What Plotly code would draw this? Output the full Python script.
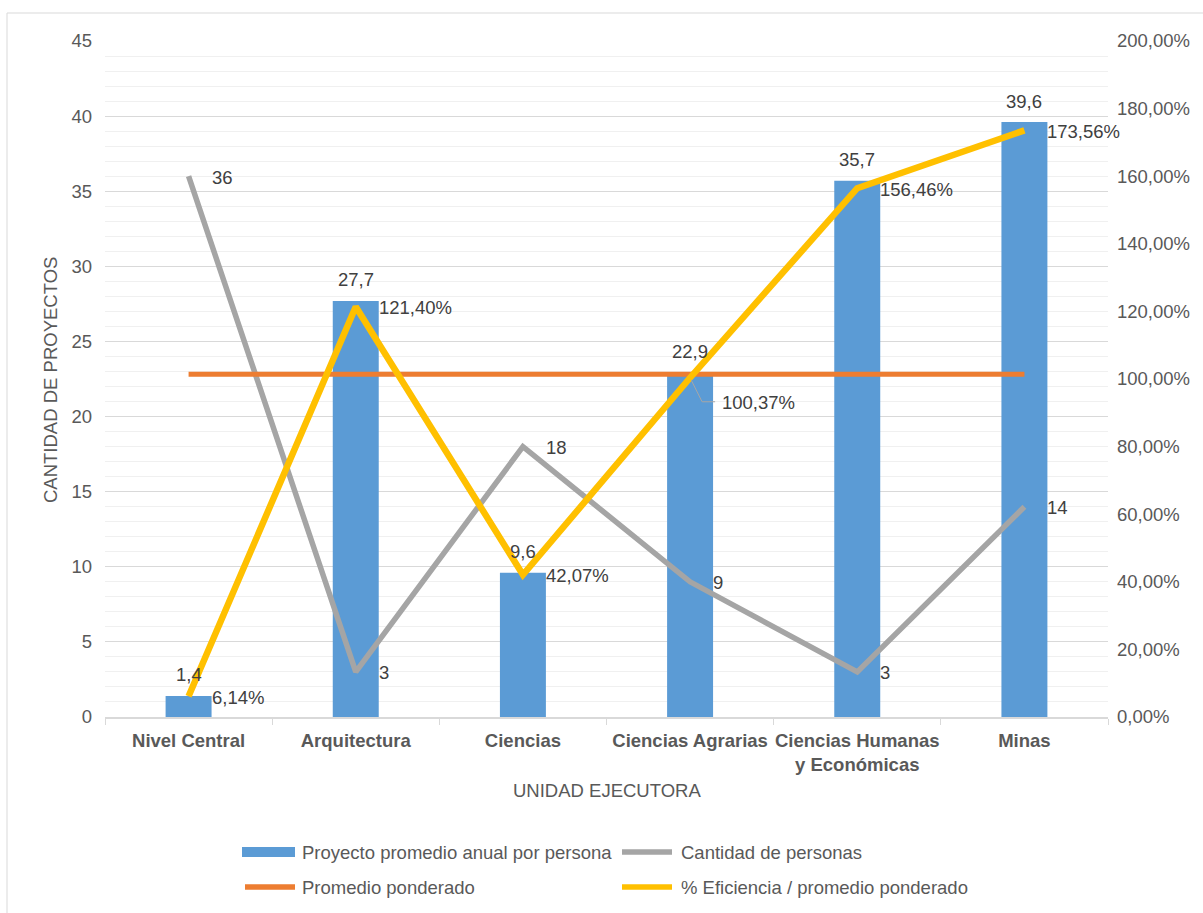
import plotly.graph_objects as go

# Datos por unidad ejecutora
categorias = ["Nivel Central", "Arquitectura", "Ciencias", "Ciencias Agrarias",
              "Ciencias Humanas<br>y Económicas", "Minas"]
proyecto_promedio = [1.4, 27.7, 9.6, 22.9, 35.7, 39.6]
cantidad_personas = [36, 3, 18, 9, 3, 14]
promedio_ponderado = [22.82, 22.82, 22.82, 22.82, 22.82, 22.82]
eficiencia_pct = [6.14, 121.40, 42.07, 100.37, 156.46, 173.56]

nombres = ["Proyecto promedio anual por persona", "Cantidad de personas",
           "Promedio ponderado", "% Eficiencia / promedio ponderado"]
colores = ["#5B9BD5", "#A5A5A5", "#ED7D31", "#FFC000"]

W, H = 1203, 913
ML, MR, MT, MB = 105, 95, 41, 196
PW, PH = W - ML - MR, H - MT - MB
FONT = "Liberation Sans, Arial, sans-serif"
FS = 18.5
TXT = "#595959"
LBL = "#404040"


def px(x):
    return (x - ML) / PW


def py(y):
    return (H - MB - y) / PH


def coma(v, dec):
    return f"{v:.{dec}f}".replace(".", ",")


fig = go.Figure()

fig.add_trace(go.Bar(x=categorias, y=proyecto_promedio, name=nombres[0],
                     marker=dict(color=colores[0], line=dict(width=0)),
                     width=0.275, yaxis="y"))
fig.add_trace(go.Scatter(x=categorias, y=cantidad_personas, name=nombres[1],
                         mode="lines", line=dict(color=colores[1], width=5.5),
                         yaxis="y"))
fig.add_trace(go.Scatter(x=categorias, y=promedio_ponderado, name=nombres[2],
                         mode="lines", line=dict(color=colores[2], width=5),
                         yaxis="y"))
fig.add_trace(go.Scatter(x=categorias, y=eficiencia_pct, name=nombres[3],
                         mode="lines", line=dict(color=colores[3], width=6.5),
                         yaxis="y2"))

anns = []
lbl_font = dict(family=FONT, size=FS, color=LBL)
# Etiquetas de las barras
for c, v in zip(categorias, proyecto_promedio):
    anns.append(dict(x=c, y=v, xref="x", yref="y", text=coma(v, 1),
                     showarrow=False, yanchor="middle", yshift=21,
                     font=lbl_font))
# Etiquetas de cantidad de personas
for c, v in zip(categorias, cantidad_personas):
    anns.append(dict(x=c, y=v, xref="x", yref="y", text=str(v),
                     showarrow=False, xanchor="left", yanchor="middle",
                     xshift=21, yshift=-1, font=lbl_font))
# Etiquetas de eficiencia
for i, (c, v) in enumerate(zip(categorias, eficiencia_pct)):
    if i == 3:
        anns.append(dict(x=c, y=v, xref="x", yref="y2", text=coma(v, 2) + "%",
                         showarrow=False, xanchor="left", yanchor="middle",
                         xshift=30, yshift=-25, font=lbl_font))
    else:
        anns.append(dict(x=c, y=v, xref="x", yref="y2", text=coma(v, 2) + "%",
                         showarrow=False, xanchor="left", yanchor="middle",
                         xshift=21, yshift=-1, font=lbl_font))

# Títulos de ejes
anns.append(dict(x=px(50), y=py(380), xref="paper", yref="paper",
                 xanchor="center", yanchor="middle",
                 text="CANTIDAD DE PROYECTOS", textangle=-90, showarrow=False,
                 font=dict(family=FONT, size=FS, color=TXT)))
anns.append(dict(x=px(607), y=py(790), xref="paper", yref="paper",
                 xanchor="center", yanchor="middle",
                 text="UNIDAD EJECUTORA", showarrow=False,
                 font=dict(family=FONT, size=FS, color=TXT)))

shapes = []
# Línea guía de la etiqueta 100,37 %
shapes.append(dict(type="path", xref="x", yref="y2", xsizemode="pixel",
                   ysizemode="pixel", xanchor=3, yanchor=eficiencia_pct[3],
                   path="M 1,-2 L 12,-24 L 25,-24",
                   line=dict(color="#A6A6A6", width=1)))
# Borde del área del gráfico
shapes.append(dict(type="rect", xref="paper", yref="paper",
                   x0=px(7), x1=px(1215), y0=py(925), y1=py(13),
                   line=dict(color="#D9D9D9", width=1), layer="below"))

# Leyenda
leg_font = dict(family=FONT, size=FS, color=TXT)
filas = [852, 887]
items = [(242, 300, filas[0]), (619, 679, filas[0]),
         (242, 300, filas[1]), (619, 679, filas[1])]
for k, (sx, tx, yy) in enumerate(items):
    if k == 0:
        shapes.append(dict(type="rect", xref="paper", yref="paper",
                           x0=px(sx), x1=px(sx + 53), y0=py(yy + 5), y1=py(yy - 5),
                           fillcolor=colores[0], line=dict(width=0)))
    else:
        shapes.append(dict(type="line", xref="paper", yref="paper",
                           x0=px(sx + 3), x1=px(sx + 53), y0=py(yy), y1=py(yy),
                           line=dict(color=colores[k], width=5.5)))
    anns.append(dict(x=px(tx), y=py(yy), xref="paper", yref="paper",
                     text=nombres[k], xanchor="left", yanchor="middle",
                     showarrow=False, font=leg_font))

fig.update_layout(
    width=W, height=H,
    margin=dict(l=ML, r=MR, t=MT, b=MB, pad=0),
    paper_bgcolor="white", plot_bgcolor="white",
    separators=",.",
    showlegend=False,
    barmode="overlay",
    font=dict(family=FONT, size=FS, color=TXT),
    annotations=anns, shapes=shapes,
    xaxis=dict(type="category", range=[-0.5, 5.5], showline=True,
               linecolor="#D9D9D9", linewidth=1.5, ticks="outside",
               tickson="boundaries", ticklen=6, tickcolor="#D9D9D9",
               showgrid=False, ticklabelstandoff=6, tickangle=0,
               tickfont=dict(family=FONT, size=FS, color=TXT, weight="bold")),
    yaxis=dict(range=[0, 45], tick0=0, dtick=5, showgrid=True,
               gridcolor="#D9D9D9", gridwidth=1, zeroline=False,
               showline=False, ticks="", ticklabelstandoff=12,
               tickfont=dict(family=FONT, size=FS, color=TXT),
               minor=dict(dtick=1, showgrid=True, gridcolor="#F0F0F0",
                          gridwidth=1)),
    yaxis2=dict(range=[0, 200], tick0=0, dtick=20, overlaying="y",
                side="right", showgrid=False, zeroline=False, showline=False,
                ticks="", tickformat=".2f", ticksuffix="%",
                ticklabelstandoff=8,
                tickfont=dict(family=FONT, size=FS, color=TXT)),
)

fig.write_html("out.html")
